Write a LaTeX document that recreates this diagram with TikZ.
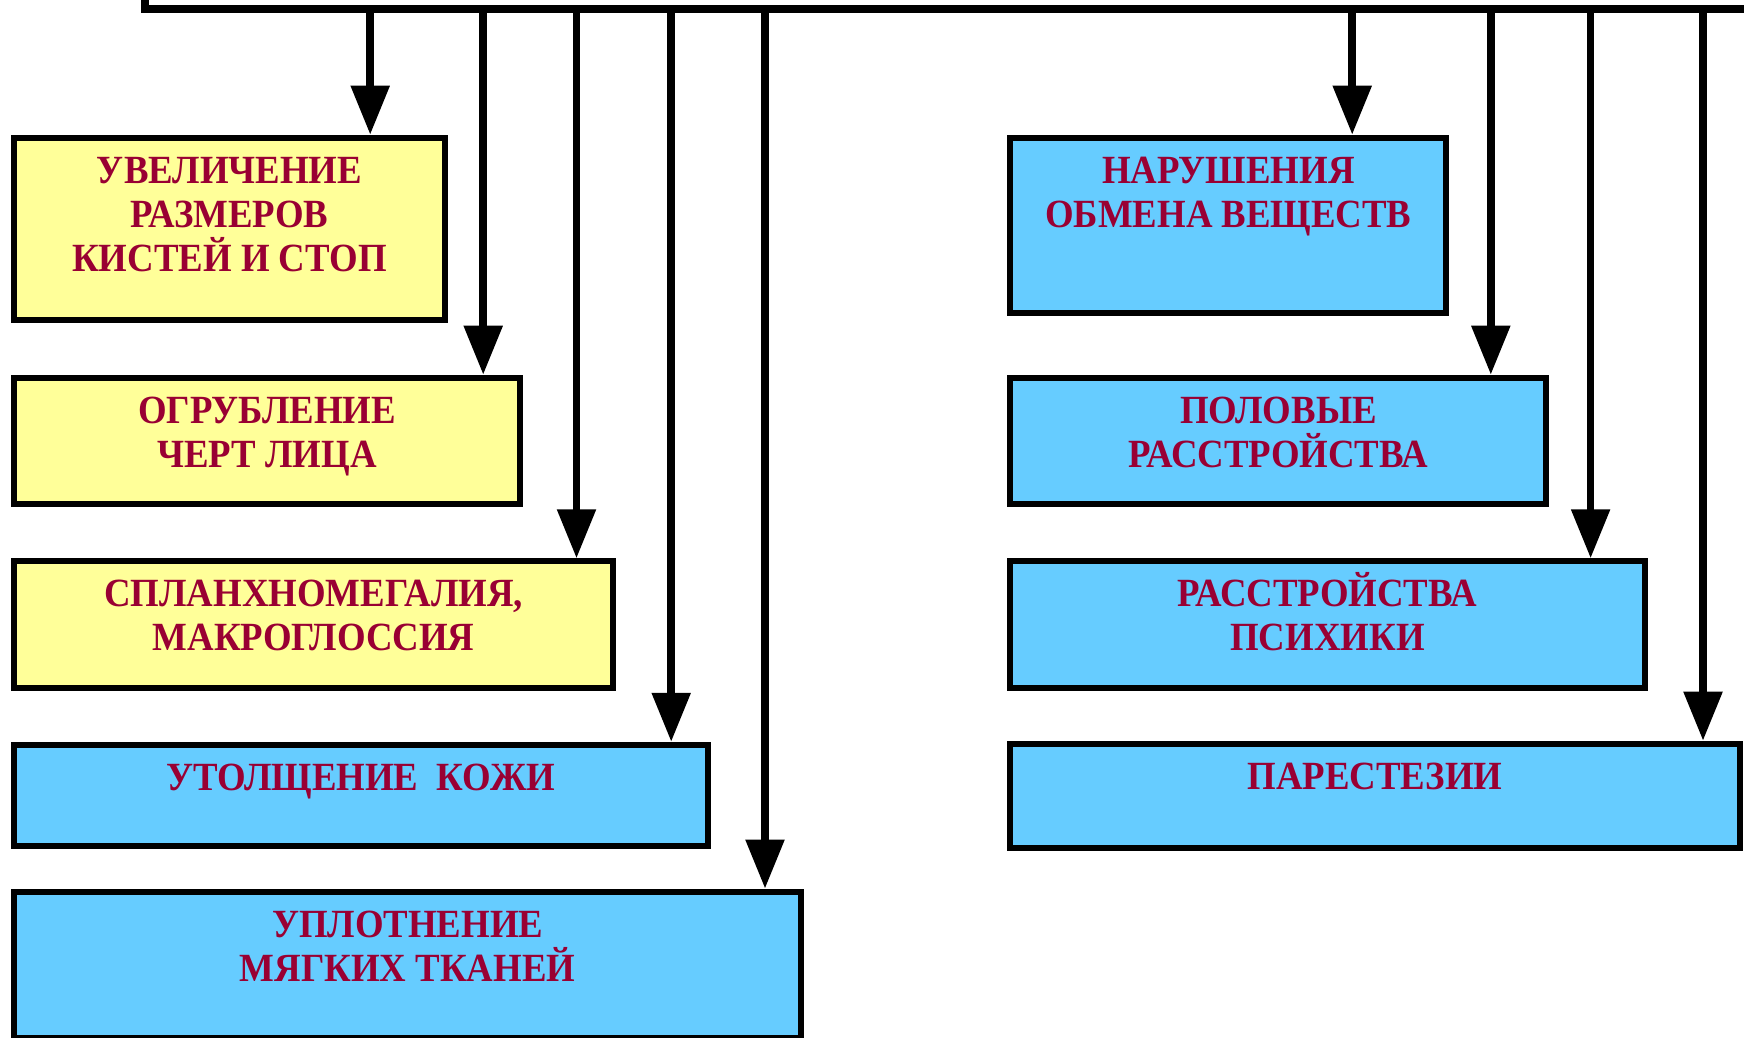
\documentclass[tikz,border=0pt]{standalone}
\usepackage{fontspec}
\newfontfamily\boxfont{Liberation Serif}[FakeStretch=0.92]
\usetikzlibrary{positioning,arrows.meta}
\definecolor{boxtext}{HTML}{990033}
\definecolor{paleyellow}{HTML}{FFFF99}
\definecolor{skyblue}{HTML}{66CCFF}

\begin{document}
\begin{tikzpicture}[x=1pt, y=-1pt]
\tikzstyle{box}=[draw, line width=6pt, inner sep=0pt]
\tikzstyle{ybox}=[box, fill=paleyellow]
\tikzstyle{bbox}=[box, fill=skyblue]
\tikzstyle{txt}=[inner sep=0pt, align=center, text=boxtext, font=\boxfont\bfseries\fontsize{40}{44}\selectfont]
\tikzstyle{bus}=[line width=8pt]
\tikzstyle{arr}=[line width=7.7pt, -{Triangle[length=49pt, width=37.3pt]}]

\useasboundingbox (0,0) rectangle (1744,1037);

% left column
\node[ybox, minimum width=431pt, minimum height=182.6pt] (b1) at (229.5,229) {};
\node[ybox, minimum width=505.8pt, minimum height=126.6pt] (b2) at (266.9,441) {};
\node[ybox, minimum width=599.3pt, minimum height=126.5pt] (b3) at (313.65,624.55) {};
\node[bbox, minimum width=693.8pt, minimum height=100.9pt] (b4) at (360.9,795.25) {};
\node[bbox, minimum width=787.2pt, minimum height=146.4pt] (b5) at (407.6,964.8) {};

% right column
\node[bbox, minimum width=436pt, minimum height=175.2pt] (b6) at (1228.3,225.3) {};
\node[bbox, minimum width=536.1pt, minimum height=126.6pt] (b7) at (1278.35,441) {};
\node[bbox, minimum width=635.9pt, minimum height=126.5pt] (b8) at (1327.45,624.55) {};
\node[bbox, minimum width=730.8pt, minimum height=104.3pt] (b9) at (1374.9,795.85) {};

\node[txt, below=22pt of b1.north] (t1) {УВЕЛИЧЕНИЕ\\РАЗМЕРОВ\\КИСТЕЙ И СТОП};
\node[txt, below=22pt of b2.north] (t2) {ОГРУБЛЕНИЕ\\ЧЕРТ ЛИЦА};
\node[txt, below=22pt of b3.north] (t3) {СПЛАНХНОМЕГАЛИЯ,\\МАКРОГЛОССИЯ};
\node[txt, below=22pt of b4.north] (t4) {УТОЛЩЕНИЕ~~КОЖИ};
\node[txt, below=22pt of b5.north] (t5) {УПЛОТНЕНИЕ\\МЯГКИХ ТКАНЕЙ};
\node[txt, below=22pt of b6.north] (t6) {НАРУШЕНИЯ\\ОБМЕНА ВЕЩЕСТВ};
\node[txt, below=22pt of b7.north] (t7) {ПОЛОВЫЕ\\РАССТРОЙСТВА};
\node[txt, below=22pt of b8.north] (t8) {РАССТРО\smash{Й}СТВА\\ПСИХИКИ};
\node[txt, below=22pt of b9.north] (t9) {ПАРЕСТЕЗИИ};

% bus along the top
\coordinate (busstart) at (145,-10);
\coordinate (busend) at (1760,8.8);
\draw[bus] (busstart) |- (busend);

\coordinate (s1) at (370.2,8.8);
\coordinate (s2) at (483.2,8.8);
\coordinate (s3) at (576.5,8.8);
\coordinate (s4) at (671.2,8.8);
\coordinate (s5) at (765,8.8);
\coordinate (s6) at (1352.2,8.8);
\coordinate (s7) at (1490.8,8.8);
\coordinate (s8) at (1590.6,8.8);
\coordinate (s9) at (1703,8.8);

\foreach \i in {1,...,9}
  \draw[arr] (s\i) -- (s\i |- b\i.north);
\end{tikzpicture}
\end{document}
